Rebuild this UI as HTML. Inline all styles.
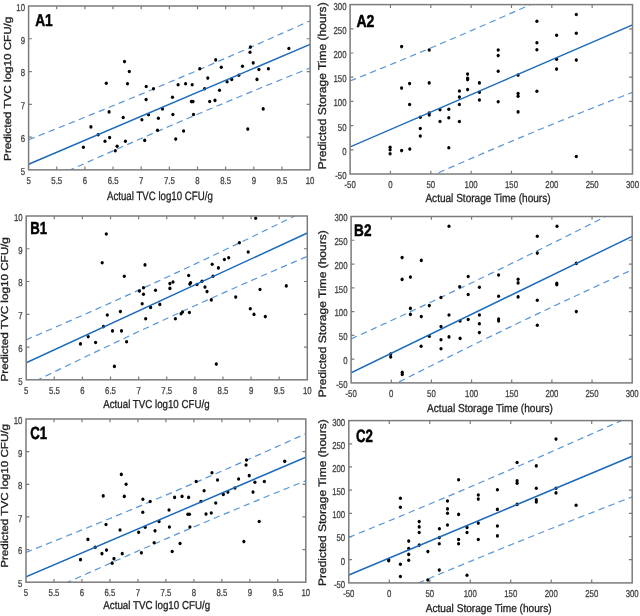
<!DOCTYPE html>
<html><head><meta charset="utf-8"><style>
html,body{margin:0;padding:0;background:#fff;width:640px;height:616px;overflow:hidden;}
svg{display:block;font-family:'Liberation Sans', sans-serif;filter:blur(0.45px);text-rendering:geometricPrecision;}
</style></head><body>
<svg width="640" height="616" viewBox="0 0 640 616">
<rect width="640" height="616" fill="#fff"/>
<clipPath id="clipA1"><rect x="28.6" y="6.0" width="281.50" height="163.85"/></clipPath>
<path d="M56.75 169.85V166.55M56.75 6.0V9.30M84.90 169.85V166.55M84.90 6.0V9.30M113.05 169.85V166.55M113.05 6.0V9.30M141.20 169.85V166.55M141.20 6.0V9.30M169.35 169.85V166.55M169.35 6.0V9.30M197.50 169.85V166.55M197.50 6.0V9.30M225.65 169.85V166.55M225.65 6.0V9.30M253.80 169.85V166.55M253.80 6.0V9.30M281.95 169.85V166.55M281.95 6.0V9.30M28.6 137.08H31.90M310.1 137.08H306.80M28.6 104.31H31.90M310.1 104.31H306.80M28.6 71.54H31.90M310.1 71.54H306.80M28.6 38.77H31.90M310.1 38.77H306.80" stroke="#7b7b7b" stroke-width="1.2" fill="none"/>
<g clip-path="url(#clipA1)">
<polyline points="28.60,139.70 37.98,135.99 47.37,132.27 56.75,128.53 66.13,124.77 75.52,121.00 84.90,117.22 94.28,113.41 103.67,109.59 113.05,105.75 122.43,101.89 131.82,98.02 141.20,94.12 150.58,90.21 159.97,86.27 169.35,82.32 178.73,78.35 188.12,74.36 197.50,70.35 206.88,66.31 216.27,62.26 225.65,58.19 235.03,54.10 244.42,50.00 253.80,45.87 263.18,41.72 272.57,37.56 281.95,33.38 291.33,29.18 300.72,24.96 310.10,20.73" fill="none" stroke="#5896d6" stroke-width="1.2" stroke-dasharray="6.4 4.4"/>
<polyline points="28.60,188.86 37.98,184.57 47.37,180.30 56.75,176.04 66.13,171.80 75.52,167.58 84.90,163.37 94.28,159.18 103.67,155.00 113.05,150.84 122.43,146.71 131.82,142.59 141.20,138.49 150.58,134.40 159.97,130.34 169.35,126.30 178.73,122.27 188.12,118.27 197.50,114.29 206.88,110.32 216.27,106.38 225.65,102.45 235.03,98.55 244.42,94.66 253.80,90.79 263.18,86.94 272.57,83.11 281.95,79.29 291.33,75.50 300.72,71.71 310.10,67.95" fill="none" stroke="#5896d6" stroke-width="1.2" stroke-dasharray="6.4 4.4"/>
</g>
<g fill="#000"><ellipse cx="106.30" cy="83.20" rx="1.6" ry="1.8"/><ellipse cx="124.50" cy="61.60" rx="1.6" ry="1.8"/><ellipse cx="129.30" cy="71.50" rx="1.6" ry="1.8"/><ellipse cx="127.50" cy="83.70" rx="1.6" ry="1.8"/><ellipse cx="146.20" cy="86.50" rx="1.6" ry="1.8"/><ellipse cx="153.50" cy="88.80" rx="1.6" ry="1.8"/><ellipse cx="146.10" cy="99.60" rx="1.6" ry="1.8"/><ellipse cx="178.10" cy="84.70" rx="1.6" ry="1.8"/><ellipse cx="185.60" cy="83.70" rx="1.6" ry="1.8"/><ellipse cx="192.20" cy="84.70" rx="1.6" ry="1.8"/><ellipse cx="172.50" cy="97.30" rx="1.6" ry="1.8"/><ellipse cx="191.40" cy="101.60" rx="1.6" ry="1.8"/><ellipse cx="193.00" cy="101.60" rx="1.6" ry="1.8"/><ellipse cx="199.80" cy="68.70" rx="1.6" ry="1.8"/><ellipse cx="83.40" cy="147.20" rx="1.6" ry="1.8"/><ellipse cx="90.90" cy="126.90" rx="1.6" ry="1.8"/><ellipse cx="98.20" cy="134.80" rx="1.6" ry="1.8"/><ellipse cx="105.00" cy="141.20" rx="1.6" ry="1.8"/><ellipse cx="109.60" cy="137.60" rx="1.6" ry="1.8"/><ellipse cx="109.10" cy="111.90" rx="1.6" ry="1.8"/><ellipse cx="117.10" cy="146.20" rx="1.6" ry="1.8"/><ellipse cx="115.30" cy="150.70" rx="1.6" ry="1.8"/><ellipse cx="123.20" cy="117.50" rx="1.6" ry="1.8"/><ellipse cx="125.40" cy="141.20" rx="1.6" ry="1.8"/><ellipse cx="141.90" cy="119.80" rx="1.6" ry="1.8"/><ellipse cx="148.50" cy="114.70" rx="1.6" ry="1.8"/><ellipse cx="144.70" cy="140.40" rx="1.6" ry="1.8"/><ellipse cx="158.40" cy="118.30" rx="1.6" ry="1.8"/><ellipse cx="162.50" cy="108.90" rx="1.6" ry="1.8"/><ellipse cx="157.50" cy="130.30" rx="1.6" ry="1.8"/><ellipse cx="172.90" cy="114.50" rx="1.6" ry="1.8"/><ellipse cx="193.50" cy="114.50" rx="1.6" ry="1.8"/><ellipse cx="183.60" cy="131.00" rx="1.6" ry="1.8"/><ellipse cx="175.70" cy="139.10" rx="1.6" ry="1.8"/><ellipse cx="207.80" cy="78.10" rx="1.6" ry="1.8"/><ellipse cx="204.60" cy="88.80" rx="1.6" ry="1.8"/><ellipse cx="209.70" cy="101.50" rx="1.6" ry="1.8"/><ellipse cx="215.00" cy="100.40" rx="1.6" ry="1.8"/><ellipse cx="219.50" cy="90.30" rx="1.6" ry="1.8"/><ellipse cx="215.70" cy="59.90" rx="1.6" ry="1.8"/><ellipse cx="221.30" cy="67.20" rx="1.6" ry="1.8"/><ellipse cx="227.10" cy="81.70" rx="1.6" ry="1.8"/><ellipse cx="231.70" cy="79.40" rx="1.6" ry="1.8"/><ellipse cx="238.80" cy="75.30" rx="1.6" ry="1.8"/><ellipse cx="242.50" cy="66.30" rx="1.6" ry="1.8"/><ellipse cx="250.40" cy="47.10" rx="1.6" ry="1.8"/><ellipse cx="250.00" cy="52.20" rx="1.6" ry="1.8"/><ellipse cx="253.20" cy="62.90" rx="1.6" ry="1.8"/><ellipse cx="258.90" cy="69.50" rx="1.6" ry="1.8"/><ellipse cx="257.00" cy="79.40" rx="1.6" ry="1.8"/><ellipse cx="268.40" cy="68.70" rx="1.6" ry="1.8"/><ellipse cx="288.90" cy="48.50" rx="1.6" ry="1.8"/><ellipse cx="263.20" cy="108.90" rx="1.6" ry="1.8"/><ellipse cx="247.80" cy="129.10" rx="1.6" ry="1.8"/></g>
<g clip-path="url(#clipA1)"><line x1="28.60" y1="164.28" x2="310.10" y2="44.34" stroke="#1b6abb" stroke-width="1.5"/></g>
<rect x="28.6" y="6.0" width="281.50" height="163.85" fill="none" stroke="#7b7b7b" stroke-width="1.5"/>
<g fill="#444444" stroke="#444444" stroke-width="0.3" font-size="10.0"><text transform="translate(28.60,184.05) scale(0.78,1)" text-anchor="middle">5</text><text transform="translate(56.75,184.05) scale(0.78,1)" text-anchor="middle">5.5</text><text transform="translate(84.90,184.05) scale(0.78,1)" text-anchor="middle">6</text><text transform="translate(113.05,184.05) scale(0.78,1)" text-anchor="middle">6.5</text><text transform="translate(141.20,184.05) scale(0.78,1)" text-anchor="middle">7</text><text transform="translate(169.35,184.05) scale(0.78,1)" text-anchor="middle">7.5</text><text transform="translate(197.50,184.05) scale(0.78,1)" text-anchor="middle">8</text><text transform="translate(225.65,184.05) scale(0.78,1)" text-anchor="middle">8.5</text><text transform="translate(253.80,184.05) scale(0.78,1)" text-anchor="middle">9</text><text transform="translate(281.95,184.05) scale(0.78,1)" text-anchor="middle">9.5</text><text transform="translate(310.10,184.05) scale(0.78,1)" text-anchor="middle">10</text><text transform="translate(25.00,174.75) scale(0.78,1)" text-anchor="end">5</text><text transform="translate(25.00,141.98) scale(0.78,1)" text-anchor="end">6</text><text transform="translate(25.00,109.21) scale(0.78,1)" text-anchor="end">7</text><text transform="translate(25.00,76.44) scale(0.78,1)" text-anchor="end">8</text><text transform="translate(25.00,43.67) scale(0.78,1)" text-anchor="end">9</text><text transform="translate(25.00,10.90) scale(0.78,1)" text-anchor="end">10</text></g>
<text transform="translate(106.95,199.75) scale(0.8061,1)" font-size="12.03" fill="#1e1e1e" stroke="#1e1e1e" stroke-width="0.3">Actual TVC log10 CFU/g</text>
<text transform="translate(10.80,160.88) rotate(-90) scale(1.1509,1)" font-size="10.14" fill="#1e1e1e" stroke="#1e1e1e" stroke-width="0.3">Predicted TVC log10 CFU/g</text>
<text transform="translate(35.14,25.75) scale(0.8038,1)" font-size="17.03" font-weight="bold" fill="#000" stroke="#000" stroke-width="0.5">A1</text>
<clipPath id="clipA2"><rect x="350.1" y="4.6" width="282.40" height="169.40"/></clipPath>
<path d="M390.44 174.0V170.70M390.44 4.6V7.90M430.79 174.0V170.70M430.79 4.6V7.90M471.13 174.0V170.70M471.13 4.6V7.90M511.47 174.0V170.70M511.47 4.6V7.90M551.81 174.0V170.70M551.81 4.6V7.90M592.16 174.0V170.70M592.16 4.6V7.90M350.1 149.80H353.40M632.5 149.80H629.20M350.1 125.60H353.40M632.5 125.60H629.20M350.1 101.40H353.40M632.5 101.40H629.20M350.1 77.20H353.40M632.5 77.20H629.20M350.1 53.00H353.40M632.5 53.00H629.20M350.1 28.80H353.40M632.5 28.80H629.20" stroke="#7b7b7b" stroke-width="1.2" fill="none"/>
<g clip-path="url(#clipA2)">
<polyline points="350.10,80.98 359.51,77.21 368.93,73.42 378.34,69.61 387.75,65.77 397.17,61.91 406.58,58.02 415.99,54.11 425.41,50.18 434.82,46.22 444.23,42.23 453.65,38.23 463.06,34.19 472.47,30.13 481.89,26.05 491.30,21.94 500.71,17.81 510.13,13.65 519.54,9.47 528.95,5.26 538.37,1.03 547.78,-3.23 557.19,-7.51 566.61,-11.81 576.02,-16.14 585.43,-20.49 594.85,-24.86 604.26,-29.26 613.67,-33.67 623.09,-38.11 632.50,-42.58" fill="none" stroke="#5896d6" stroke-width="1.2" stroke-dasharray="6.4 4.4"/>
<polyline points="350.10,212.81 359.51,208.45 368.93,204.10 378.34,199.78 387.75,195.49 397.17,191.21 406.58,186.96 415.99,182.74 425.41,178.54 434.82,174.36 444.23,170.21 453.65,166.09 463.06,161.99 472.47,157.91 481.89,153.86 491.30,149.83 500.71,145.83 510.13,141.86 519.54,137.90 528.95,133.98 538.37,130.07 547.78,126.19 557.19,122.34 566.61,118.51 576.02,114.70 585.43,110.92 594.85,107.16 604.26,103.42 613.67,99.70 623.09,96.01 632.50,92.33" fill="none" stroke="#5896d6" stroke-width="1.2" stroke-dasharray="6.4 4.4"/>
</g>
<g fill="#000"><ellipse cx="401.60" cy="46.60" rx="1.6" ry="1.8"/><ellipse cx="429.20" cy="50.00" rx="1.6" ry="1.8"/><ellipse cx="498.20" cy="50.00" rx="1.6" ry="1.8"/><ellipse cx="498.20" cy="55.60" rx="1.6" ry="1.8"/><ellipse cx="498.20" cy="71.20" rx="1.6" ry="1.8"/><ellipse cx="401.60" cy="88.10" rx="1.6" ry="1.8"/><ellipse cx="409.60" cy="83.60" rx="1.6" ry="1.8"/><ellipse cx="429.20" cy="82.90" rx="1.6" ry="1.8"/><ellipse cx="467.60" cy="74.10" rx="1.6" ry="1.8"/><ellipse cx="467.60" cy="78.20" rx="1.6" ry="1.8"/><ellipse cx="467.60" cy="79.60" rx="1.6" ry="1.8"/><ellipse cx="467.60" cy="89.60" rx="1.6" ry="1.8"/><ellipse cx="479.40" cy="82.90" rx="1.6" ry="1.8"/><ellipse cx="409.60" cy="104.50" rx="1.6" ry="1.8"/><ellipse cx="459.40" cy="91.00" rx="1.6" ry="1.8"/><ellipse cx="459.40" cy="97.10" rx="1.6" ry="1.8"/><ellipse cx="459.40" cy="104.50" rx="1.6" ry="1.8"/><ellipse cx="479.40" cy="92.30" rx="1.6" ry="1.8"/><ellipse cx="479.40" cy="100.00" rx="1.6" ry="1.8"/><ellipse cx="498.20" cy="101.70" rx="1.6" ry="1.8"/><ellipse cx="440.00" cy="109.70" rx="1.6" ry="1.8"/><ellipse cx="448.80" cy="109.20" rx="1.6" ry="1.8"/><ellipse cx="429.20" cy="113.10" rx="1.6" ry="1.8"/><ellipse cx="429.20" cy="114.90" rx="1.6" ry="1.8"/><ellipse cx="420.30" cy="117.20" rx="1.6" ry="1.8"/><ellipse cx="440.00" cy="121.50" rx="1.6" ry="1.8"/><ellipse cx="448.80" cy="117.80" rx="1.6" ry="1.8"/><ellipse cx="459.40" cy="121.50" rx="1.6" ry="1.8"/><ellipse cx="420.30" cy="128.50" rx="1.6" ry="1.8"/><ellipse cx="420.30" cy="136.00" rx="1.6" ry="1.8"/><ellipse cx="390.10" cy="147.20" rx="1.6" ry="1.8"/><ellipse cx="390.10" cy="149.70" rx="1.6" ry="1.8"/><ellipse cx="390.10" cy="153.80" rx="1.6" ry="1.8"/><ellipse cx="401.60" cy="150.60" rx="1.6" ry="1.8"/><ellipse cx="409.80" cy="149.10" rx="1.6" ry="1.8"/><ellipse cx="448.80" cy="147.80" rx="1.6" ry="1.8"/><ellipse cx="518.10" cy="75.10" rx="1.6" ry="1.8"/><ellipse cx="536.90" cy="21.30" rx="1.6" ry="1.8"/><ellipse cx="536.90" cy="42.80" rx="1.6" ry="1.8"/><ellipse cx="536.90" cy="49.80" rx="1.6" ry="1.8"/><ellipse cx="556.60" cy="35.30" rx="1.6" ry="1.8"/><ellipse cx="556.60" cy="59.20" rx="1.6" ry="1.8"/><ellipse cx="556.60" cy="69.10" rx="1.6" ry="1.8"/><ellipse cx="576.30" cy="14.50" rx="1.6" ry="1.8"/><ellipse cx="576.30" cy="33.30" rx="1.6" ry="1.8"/><ellipse cx="576.30" cy="60.10" rx="1.6" ry="1.8"/><ellipse cx="518.10" cy="93.50" rx="1.6" ry="1.8"/><ellipse cx="518.10" cy="96.30" rx="1.6" ry="1.8"/><ellipse cx="518.10" cy="111.90" rx="1.6" ry="1.8"/><ellipse cx="536.90" cy="91.30" rx="1.6" ry="1.8"/><ellipse cx="576.30" cy="156.50" rx="1.6" ry="1.8"/></g>
<g clip-path="url(#clipA2)"><line x1="350.10" y1="146.90" x2="632.50" y2="24.88" stroke="#1b6abb" stroke-width="1.5"/></g>
<rect x="350.1" y="4.6" width="282.40" height="169.40" fill="none" stroke="#7b7b7b" stroke-width="1.5"/>
<g fill="#444444" stroke="#444444" stroke-width="0.3" font-size="10.0"><text transform="translate(350.10,188.20) scale(0.78,1)" text-anchor="middle">-50</text><text transform="translate(390.44,188.20) scale(0.78,1)" text-anchor="middle">0</text><text transform="translate(430.79,188.20) scale(0.78,1)" text-anchor="middle">50</text><text transform="translate(471.13,188.20) scale(0.78,1)" text-anchor="middle">100</text><text transform="translate(511.47,188.20) scale(0.78,1)" text-anchor="middle">150</text><text transform="translate(551.81,188.20) scale(0.78,1)" text-anchor="middle">200</text><text transform="translate(592.16,188.20) scale(0.78,1)" text-anchor="middle">250</text><text transform="translate(632.50,188.20) scale(0.78,1)" text-anchor="middle">300</text><text transform="translate(346.50,178.90) scale(0.78,1)" text-anchor="end">-50</text><text transform="translate(346.50,154.70) scale(0.78,1)" text-anchor="end">0</text><text transform="translate(346.50,130.50) scale(0.78,1)" text-anchor="end">50</text><text transform="translate(346.50,106.30) scale(0.78,1)" text-anchor="end">100</text><text transform="translate(346.50,82.10) scale(0.78,1)" text-anchor="end">150</text><text transform="translate(346.50,57.90) scale(0.78,1)" text-anchor="end">200</text><text transform="translate(346.50,33.70) scale(0.78,1)" text-anchor="end">250</text><text transform="translate(346.50,9.50) scale(0.78,1)" text-anchor="end">300</text></g>
<text transform="translate(425.40,202.25) scale(0.8570,1)" font-size="11.74" fill="#1e1e1e" stroke="#1e1e1e" stroke-width="0.3">Actual Storage Time (hours)</text>
<text transform="translate(325.95,169.31) rotate(-90) scale(1.0635,1)" font-size="11.30" fill="#1e1e1e" stroke="#1e1e1e" stroke-width="0.3">Predicted Storage Time (hours)</text>
<text transform="translate(356.43,27.45) scale(0.8079,1)" font-size="17.39" font-weight="bold" fill="#000" stroke="#000" stroke-width="0.5">A2</text>
<clipPath id="clipB1"><rect x="26.2" y="216.0" width="281.10" height="163.80"/></clipPath>
<path d="M54.31 379.8V376.50M54.31 216.0V219.30M82.42 379.8V376.50M82.42 216.0V219.30M110.53 379.8V376.50M110.53 216.0V219.30M138.64 379.8V376.50M138.64 216.0V219.30M166.75 379.8V376.50M166.75 216.0V219.30M194.86 379.8V376.50M194.86 216.0V219.30M222.97 379.8V376.50M222.97 216.0V219.30M251.08 379.8V376.50M251.08 216.0V219.30M279.19 379.8V376.50M279.19 216.0V219.30M26.2 347.04H29.50M307.3 347.04H304.00M26.2 314.28H29.50M307.3 314.28H304.00M26.2 281.52H29.50M307.3 281.52H304.00M26.2 248.76H29.50M307.3 248.76H304.00" stroke="#7b7b7b" stroke-width="1.2" fill="none"/>
<g clip-path="url(#clipB1)">
<polyline points="26.20,339.85 35.57,335.82 44.94,331.77 54.31,327.70 63.68,323.61 73.05,319.50 82.42,315.38 91.79,311.23 101.16,307.06 110.53,302.87 119.90,298.66 129.27,294.42 138.64,290.17 148.01,285.88 157.38,281.58 166.75,277.25 176.12,272.90 185.49,268.53 194.86,264.14 204.23,259.72 213.60,255.28 222.97,250.82 232.34,246.33 241.71,241.83 251.08,237.30 260.45,232.76 269.82,228.19 279.19,223.61 288.56,219.01 297.93,214.39 307.30,209.75" fill="none" stroke="#5896d6" stroke-width="1.2" stroke-dasharray="6.4 4.4"/>
<polyline points="26.20,385.68 35.57,381.06 44.94,376.46 54.31,371.88 63.68,367.32 73.05,362.78 82.42,358.26 91.79,353.76 101.16,349.28 110.53,344.82 119.90,340.39 129.27,335.97 138.64,331.58 148.01,327.21 157.38,322.87 166.75,318.55 176.12,314.25 185.49,309.97 194.86,305.72 204.23,301.49 213.60,297.28 222.97,293.09 232.34,288.93 241.71,284.78 251.08,280.66 260.45,276.56 269.82,272.47 279.19,268.41 288.56,264.36 297.93,260.33 307.30,256.32" fill="none" stroke="#5896d6" stroke-width="1.2" stroke-dasharray="6.4 4.4"/>
</g>
<g fill="#000"><ellipse cx="106.30" cy="234.00" rx="1.6" ry="1.8"/><ellipse cx="102.20" cy="262.80" rx="1.6" ry="1.8"/><ellipse cx="145.00" cy="264.90" rx="1.6" ry="1.8"/><ellipse cx="124.30" cy="276.30" rx="1.6" ry="1.8"/><ellipse cx="139.40" cy="291.00" rx="1.6" ry="1.8"/><ellipse cx="143.50" cy="287.80" rx="1.6" ry="1.8"/><ellipse cx="143.50" cy="294.20" rx="1.6" ry="1.8"/><ellipse cx="155.50" cy="290.30" rx="1.6" ry="1.8"/><ellipse cx="169.90" cy="283.60" rx="1.6" ry="1.8"/><ellipse cx="173.00" cy="282.00" rx="1.6" ry="1.8"/><ellipse cx="169.90" cy="288.40" rx="1.6" ry="1.8"/><ellipse cx="188.70" cy="275.50" rx="1.6" ry="1.8"/><ellipse cx="190.60" cy="282.80" rx="1.6" ry="1.8"/><ellipse cx="189.80" cy="284.10" rx="1.6" ry="1.8"/><ellipse cx="80.50" cy="343.90" rx="1.6" ry="1.8"/><ellipse cx="88.20" cy="336.70" rx="1.6" ry="1.8"/><ellipse cx="95.60" cy="342.50" rx="1.6" ry="1.8"/><ellipse cx="103.50" cy="326.60" rx="1.6" ry="1.8"/><ellipse cx="107.30" cy="315.00" rx="1.6" ry="1.8"/><ellipse cx="112.50" cy="330.90" rx="1.6" ry="1.8"/><ellipse cx="120.40" cy="311.60" rx="1.6" ry="1.8"/><ellipse cx="121.50" cy="330.90" rx="1.6" ry="1.8"/><ellipse cx="126.60" cy="341.80" rx="1.6" ry="1.8"/><ellipse cx="114.40" cy="366.40" rx="1.6" ry="1.8"/><ellipse cx="142.20" cy="303.70" rx="1.6" ry="1.8"/><ellipse cx="150.60" cy="307.40" rx="1.6" ry="1.8"/><ellipse cx="159.80" cy="304.40" rx="1.6" ry="1.8"/><ellipse cx="145.70" cy="318.70" rx="1.6" ry="1.8"/><ellipse cx="175.40" cy="318.70" rx="1.6" ry="1.8"/><ellipse cx="181.00" cy="313.80" rx="1.6" ry="1.8"/><ellipse cx="182.50" cy="312.00" rx="1.6" ry="1.8"/><ellipse cx="189.40" cy="312.50" rx="1.6" ry="1.8"/><ellipse cx="197.00" cy="284.50" rx="1.6" ry="1.8"/><ellipse cx="202.00" cy="281.30" rx="1.6" ry="1.8"/><ellipse cx="205.00" cy="287.10" rx="1.6" ry="1.8"/><ellipse cx="207.00" cy="291.60" rx="1.6" ry="1.8"/><ellipse cx="213.00" cy="276.30" rx="1.6" ry="1.8"/><ellipse cx="212.20" cy="264.30" rx="1.6" ry="1.8"/><ellipse cx="218.40" cy="267.90" rx="1.6" ry="1.8"/><ellipse cx="224.40" cy="259.50" rx="1.6" ry="1.8"/><ellipse cx="228.70" cy="257.80" rx="1.6" ry="1.8"/><ellipse cx="239.40" cy="242.80" rx="1.6" ry="1.8"/><ellipse cx="248.20" cy="252.00" rx="1.6" ry="1.8"/><ellipse cx="255.70" cy="218.20" rx="1.6" ry="1.8"/><ellipse cx="260.00" cy="289.50" rx="1.6" ry="1.8"/><ellipse cx="286.30" cy="285.90" rx="1.6" ry="1.8"/><ellipse cx="211.30" cy="299.90" rx="1.6" ry="1.8"/><ellipse cx="235.70" cy="297.10" rx="1.6" ry="1.8"/><ellipse cx="250.30" cy="308.80" rx="1.6" ry="1.8"/><ellipse cx="254.00" cy="314.40" rx="1.6" ry="1.8"/><ellipse cx="265.30" cy="316.60" rx="1.6" ry="1.8"/><ellipse cx="216.30" cy="364.10" rx="1.6" ry="1.8"/></g>
<g clip-path="url(#clipB1)"><line x1="26.20" y1="362.76" x2="307.30" y2="233.04" stroke="#1b6abb" stroke-width="1.5"/></g>
<rect x="26.2" y="216.0" width="281.10" height="163.80" fill="none" stroke="#7b7b7b" stroke-width="1.5"/>
<g fill="#444444" stroke="#444444" stroke-width="0.3" font-size="10.0"><text transform="translate(26.20,394.00) scale(0.78,1)" text-anchor="middle">5</text><text transform="translate(54.31,394.00) scale(0.78,1)" text-anchor="middle">5.5</text><text transform="translate(82.42,394.00) scale(0.78,1)" text-anchor="middle">6</text><text transform="translate(110.53,394.00) scale(0.78,1)" text-anchor="middle">6.5</text><text transform="translate(138.64,394.00) scale(0.78,1)" text-anchor="middle">7</text><text transform="translate(166.75,394.00) scale(0.78,1)" text-anchor="middle">7.5</text><text transform="translate(194.86,394.00) scale(0.78,1)" text-anchor="middle">8</text><text transform="translate(222.97,394.00) scale(0.78,1)" text-anchor="middle">8.5</text><text transform="translate(251.08,394.00) scale(0.78,1)" text-anchor="middle">9</text><text transform="translate(279.19,394.00) scale(0.78,1)" text-anchor="middle">9.5</text><text transform="translate(307.30,394.00) scale(0.78,1)" text-anchor="middle">10</text><text transform="translate(22.60,384.70) scale(0.78,1)" text-anchor="end">5</text><text transform="translate(22.60,351.94) scale(0.78,1)" text-anchor="end">6</text><text transform="translate(22.60,319.18) scale(0.78,1)" text-anchor="end">7</text><text transform="translate(22.60,286.42) scale(0.78,1)" text-anchor="end">8</text><text transform="translate(22.60,253.66) scale(0.78,1)" text-anchor="end">9</text><text transform="translate(22.60,220.90) scale(0.78,1)" text-anchor="end">10</text></g>
<text transform="translate(103.25,408.35) scale(0.8403,1)" font-size="11.59" fill="#1e1e1e" stroke="#1e1e1e" stroke-width="0.3">Actual TVC log10 CFU/g</text>
<text transform="translate(7.75,381.48) rotate(-90) scale(1.1517,1)" font-size="10.14" fill="#1e1e1e" stroke="#1e1e1e" stroke-width="0.3">Predicted TVC log10 CFU/g</text>
<text transform="translate(30.22,234.45) scale(0.7602,1)" font-size="17.39" font-weight="bold" fill="#000" stroke="#000" stroke-width="0.5">B1</text>
<clipPath id="clipB2"><rect x="351.1" y="216.5" width="281.10" height="166.40"/></clipPath>
<path d="M391.26 382.9V379.60M391.26 216.5V219.80M431.41 382.9V379.60M431.41 216.5V219.80M471.57 382.9V379.60M471.57 216.5V219.80M511.73 382.9V379.60M511.73 216.5V219.80M551.89 382.9V379.60M551.89 216.5V219.80M592.04 382.9V379.60M592.04 216.5V219.80M351.1 359.13H354.40M632.2 359.13H628.90M351.1 335.36H354.40M632.2 335.36H628.90M351.1 311.59H354.40M632.2 311.59H628.90M351.1 287.81H354.40M632.2 287.81H628.90M351.1 264.04H354.40M632.2 264.04H628.90M351.1 240.27H354.40M632.2 240.27H628.90" stroke="#7b7b7b" stroke-width="1.2" fill="none"/>
<g clip-path="url(#clipB2)">
<polyline points="351.10,338.97 360.47,334.72 369.84,330.44 379.21,326.15 388.58,321.84 397.95,317.51 407.32,313.16 416.69,308.79 426.06,304.41 435.43,300.00 444.80,295.58 454.17,291.13 463.54,286.67 472.91,282.18 482.28,277.67 491.65,273.15 501.02,268.60 510.39,264.03 519.76,259.44 529.13,254.83 538.50,250.20 547.87,245.55 557.24,240.88 566.61,236.19 575.98,231.48 585.35,226.75 594.72,222.00 604.09,217.23 613.46,212.45 622.83,207.64 632.20,202.82" fill="none" stroke="#5896d6" stroke-width="1.2" stroke-dasharray="6.4 4.4"/>
<polyline points="351.10,406.48 360.47,401.64 369.84,396.82 379.21,392.02 388.58,387.24 397.95,382.48 407.32,377.73 416.69,373.00 426.06,368.30 435.43,363.61 444.80,358.94 454.17,354.29 463.54,349.67 472.91,345.06 482.28,340.47 491.65,335.91 501.02,331.36 510.39,326.84 519.76,322.33 529.13,317.85 538.50,313.39 547.87,308.94 557.24,304.52 566.61,300.12 575.98,295.73 585.35,291.37 594.72,287.03 604.09,282.70 613.46,278.39 622.83,274.10 632.20,269.83" fill="none" stroke="#5896d6" stroke-width="1.2" stroke-dasharray="6.4 4.4"/>
</g>
<g fill="#000"><ellipse cx="449.00" cy="226.30" rx="1.6" ry="1.8"/><ellipse cx="402.10" cy="257.60" rx="1.6" ry="1.8"/><ellipse cx="421.30" cy="260.40" rx="1.6" ry="1.8"/><ellipse cx="402.10" cy="279.40" rx="1.6" ry="1.8"/><ellipse cx="410.40" cy="277.10" rx="1.6" ry="1.8"/><ellipse cx="468.20" cy="276.50" rx="1.6" ry="1.8"/><ellipse cx="459.70" cy="286.70" rx="1.6" ry="1.8"/><ellipse cx="479.40" cy="287.20" rx="1.6" ry="1.8"/><ellipse cx="498.60" cy="275.00" rx="1.6" ry="1.8"/><ellipse cx="468.20" cy="294.50" rx="1.6" ry="1.8"/><ellipse cx="498.60" cy="296.20" rx="1.6" ry="1.8"/><ellipse cx="441.00" cy="297.50" rx="1.6" ry="1.8"/><ellipse cx="410.40" cy="308.40" rx="1.6" ry="1.8"/><ellipse cx="410.40" cy="314.40" rx="1.6" ry="1.8"/><ellipse cx="429.30" cy="305.60" rx="1.6" ry="1.8"/><ellipse cx="421.30" cy="316.60" rx="1.6" ry="1.8"/><ellipse cx="449.00" cy="315.00" rx="1.6" ry="1.8"/><ellipse cx="460.10" cy="321.00" rx="1.6" ry="1.8"/><ellipse cx="468.20" cy="319.50" rx="1.6" ry="1.8"/><ellipse cx="479.40" cy="315.00" rx="1.6" ry="1.8"/><ellipse cx="479.40" cy="323.80" rx="1.6" ry="1.8"/><ellipse cx="479.40" cy="332.60" rx="1.6" ry="1.8"/><ellipse cx="498.60" cy="319.10" rx="1.6" ry="1.8"/><ellipse cx="498.60" cy="321.00" rx="1.6" ry="1.8"/><ellipse cx="441.00" cy="326.60" rx="1.6" ry="1.8"/><ellipse cx="429.30" cy="336.30" rx="1.6" ry="1.8"/><ellipse cx="441.00" cy="339.70" rx="1.6" ry="1.8"/><ellipse cx="449.00" cy="336.90" rx="1.6" ry="1.8"/><ellipse cx="460.10" cy="338.40" rx="1.6" ry="1.8"/><ellipse cx="421.10" cy="346.30" rx="1.6" ry="1.8"/><ellipse cx="441.00" cy="348.70" rx="1.6" ry="1.8"/><ellipse cx="390.70" cy="354.10" rx="1.6" ry="1.8"/><ellipse cx="390.70" cy="356.90" rx="1.6" ry="1.8"/><ellipse cx="402.25" cy="372.30" rx="1.6" ry="1.8"/><ellipse cx="402.25" cy="374.40" rx="1.6" ry="1.8"/><ellipse cx="518.10" cy="279.20" rx="1.6" ry="1.8"/><ellipse cx="518.10" cy="282.90" rx="1.6" ry="1.8"/><ellipse cx="537.30" cy="236.20" rx="1.6" ry="1.8"/><ellipse cx="537.30" cy="253.10" rx="1.6" ry="1.8"/><ellipse cx="557.00" cy="226.30" rx="1.6" ry="1.8"/><ellipse cx="556.80" cy="283.40" rx="1.6" ry="1.8"/><ellipse cx="556.80" cy="284.80" rx="1.6" ry="1.8"/><ellipse cx="576.30" cy="263.40" rx="1.6" ry="1.8"/><ellipse cx="518.10" cy="296.90" rx="1.6" ry="1.8"/><ellipse cx="537.30" cy="300.30" rx="1.6" ry="1.8"/><ellipse cx="537.30" cy="325.30" rx="1.6" ry="1.8"/><ellipse cx="576.30" cy="311.60" rx="1.6" ry="1.8"/></g>
<g clip-path="url(#clipB2)"><line x1="351.10" y1="372.73" x2="632.20" y2="236.33" stroke="#1b6abb" stroke-width="1.5"/></g>
<rect x="351.1" y="216.5" width="281.10" height="166.40" fill="none" stroke="#7b7b7b" stroke-width="1.5"/>
<g fill="#444444" stroke="#444444" stroke-width="0.3" font-size="10.0"><text transform="translate(351.10,397.10) scale(0.78,1)" text-anchor="middle">-50</text><text transform="translate(391.26,397.10) scale(0.78,1)" text-anchor="middle">0</text><text transform="translate(431.41,397.10) scale(0.78,1)" text-anchor="middle">50</text><text transform="translate(471.57,397.10) scale(0.78,1)" text-anchor="middle">100</text><text transform="translate(511.73,397.10) scale(0.78,1)" text-anchor="middle">150</text><text transform="translate(551.89,397.10) scale(0.78,1)" text-anchor="middle">200</text><text transform="translate(592.04,397.10) scale(0.78,1)" text-anchor="middle">250</text><text transform="translate(632.20,397.10) scale(0.78,1)" text-anchor="middle">300</text><text transform="translate(347.50,387.80) scale(0.78,1)" text-anchor="end">-50</text><text transform="translate(347.50,364.03) scale(0.78,1)" text-anchor="end">0</text><text transform="translate(347.50,340.26) scale(0.78,1)" text-anchor="end">50</text><text transform="translate(347.50,316.49) scale(0.78,1)" text-anchor="end">100</text><text transform="translate(347.50,292.71) scale(0.78,1)" text-anchor="end">150</text><text transform="translate(347.50,268.94) scale(0.78,1)" text-anchor="end">200</text><text transform="translate(347.50,245.17) scale(0.78,1)" text-anchor="end">250</text><text transform="translate(347.50,221.40) scale(0.78,1)" text-anchor="end">300</text></g>
<text transform="translate(427.05,412.25) scale(0.8833,1)" font-size="11.45" fill="#1e1e1e" stroke="#1e1e1e" stroke-width="0.3">Actual Storage Time (hours)</text>
<text transform="translate(325.75,397.31) rotate(-90) scale(1.1216,1)" font-size="10.72" fill="#1e1e1e" stroke="#1e1e1e" stroke-width="0.3">Predicted Storage Time (hours)</text>
<text transform="translate(354.10,235.55) scale(0.8084,1)" font-size="16.81" font-weight="bold" fill="#000" stroke="#000" stroke-width="0.5">B2</text>
<clipPath id="clipC1"><rect x="26.0" y="419.0" width="279.80" height="163.20"/></clipPath>
<path d="M53.98 582.2V578.90M53.98 419.0V422.30M81.96 582.2V578.90M81.96 419.0V422.30M109.94 582.2V578.90M109.94 419.0V422.30M137.92 582.2V578.90M137.92 419.0V422.30M165.90 582.2V578.90M165.90 419.0V422.30M193.88 582.2V578.90M193.88 419.0V422.30M221.86 582.2V578.90M221.86 419.0V422.30M249.84 582.2V578.90M249.84 419.0V422.30M277.82 582.2V578.90M277.82 419.0V422.30M26.0 549.56H29.30M305.8 549.56H302.50M26.0 516.92H29.30M305.8 516.92H302.50M26.0 484.28H29.30M305.8 484.28H302.50M26.0 451.64H29.30M305.8 451.64H302.50" stroke="#7b7b7b" stroke-width="1.2" fill="none"/>
<g clip-path="url(#clipC1)">
<polyline points="26.00,552.33 35.33,548.63 44.65,544.92 53.98,541.19 63.31,537.44 72.63,533.68 81.96,529.90 91.29,526.11 100.61,522.30 109.94,518.47 119.27,514.62 128.59,510.76 137.92,506.87 147.25,502.97 156.57,499.04 165.90,495.10 175.23,491.14 184.55,487.16 193.88,483.16 203.21,479.14 212.53,475.09 221.86,471.04 231.19,466.96 240.51,462.86 249.84,458.74 259.17,454.61 268.49,450.45 277.82,446.28 287.15,442.10 296.47,437.89 305.80,433.67" fill="none" stroke="#5896d6" stroke-width="1.2" stroke-dasharray="6.4 4.4"/>
<polyline points="26.00,601.30 35.33,597.02 44.65,592.76 53.98,588.52 63.31,584.29 72.63,580.07 81.96,575.87 91.29,571.69 100.61,567.53 109.94,563.38 119.27,559.26 128.59,555.15 137.92,551.06 147.25,546.99 156.57,542.93 165.90,538.90 175.23,534.89 184.55,530.90 193.88,526.92 203.21,522.97 212.53,519.03 221.86,515.12 231.19,511.22 240.51,507.34 249.84,503.49 259.17,499.65 268.49,495.82 277.82,492.02 287.15,488.23 296.47,484.46 305.80,480.71" fill="none" stroke="#5896d6" stroke-width="1.2" stroke-dasharray="6.4 4.4"/>
</g>
<g fill="#000"><ellipse cx="103.23" cy="495.89" rx="1.6" ry="1.8"/><ellipse cx="121.32" cy="474.38" rx="1.6" ry="1.8"/><ellipse cx="126.09" cy="484.24" rx="1.6" ry="1.8"/><ellipse cx="124.30" cy="496.39" rx="1.6" ry="1.8"/><ellipse cx="142.89" cy="499.18" rx="1.6" ry="1.8"/><ellipse cx="150.15" cy="501.47" rx="1.6" ry="1.8"/><ellipse cx="142.79" cy="512.23" rx="1.6" ry="1.8"/><ellipse cx="174.60" cy="497.39" rx="1.6" ry="1.8"/><ellipse cx="182.05" cy="496.39" rx="1.6" ry="1.8"/><ellipse cx="188.61" cy="497.39" rx="1.6" ry="1.8"/><ellipse cx="169.03" cy="509.94" rx="1.6" ry="1.8"/><ellipse cx="187.82" cy="514.22" rx="1.6" ry="1.8"/><ellipse cx="189.41" cy="514.22" rx="1.6" ry="1.8"/><ellipse cx="196.17" cy="481.45" rx="1.6" ry="1.8"/><ellipse cx="80.47" cy="559.64" rx="1.6" ry="1.8"/><ellipse cx="87.92" cy="539.42" rx="1.6" ry="1.8"/><ellipse cx="95.18" cy="547.29" rx="1.6" ry="1.8"/><ellipse cx="101.94" cy="553.66" rx="1.6" ry="1.8"/><ellipse cx="106.51" cy="550.08" rx="1.6" ry="1.8"/><ellipse cx="106.01" cy="524.48" rx="1.6" ry="1.8"/><ellipse cx="113.97" cy="558.64" rx="1.6" ry="1.8"/><ellipse cx="112.18" cy="563.13" rx="1.6" ry="1.8"/><ellipse cx="120.03" cy="530.06" rx="1.6" ry="1.8"/><ellipse cx="122.22" cy="553.66" rx="1.6" ry="1.8"/><ellipse cx="138.62" cy="532.35" rx="1.6" ry="1.8"/><ellipse cx="145.18" cy="527.27" rx="1.6" ry="1.8"/><ellipse cx="141.40" cy="552.87" rx="1.6" ry="1.8"/><ellipse cx="155.02" cy="530.85" rx="1.6" ry="1.8"/><ellipse cx="159.09" cy="521.49" rx="1.6" ry="1.8"/><ellipse cx="154.12" cy="542.81" rx="1.6" ry="1.8"/><ellipse cx="169.43" cy="527.07" rx="1.6" ry="1.8"/><ellipse cx="189.90" cy="527.07" rx="1.6" ry="1.8"/><ellipse cx="180.06" cy="543.50" rx="1.6" ry="1.8"/><ellipse cx="172.21" cy="551.57" rx="1.6" ry="1.8"/><ellipse cx="204.12" cy="490.81" rx="1.6" ry="1.8"/><ellipse cx="200.94" cy="501.47" rx="1.6" ry="1.8"/><ellipse cx="206.01" cy="514.12" rx="1.6" ry="1.8"/><ellipse cx="211.27" cy="513.03" rx="1.6" ry="1.8"/><ellipse cx="215.75" cy="502.97" rx="1.6" ry="1.8"/><ellipse cx="211.97" cy="472.69" rx="1.6" ry="1.8"/><ellipse cx="217.54" cy="479.96" rx="1.6" ry="1.8"/><ellipse cx="223.30" cy="494.40" rx="1.6" ry="1.8"/><ellipse cx="227.87" cy="492.11" rx="1.6" ry="1.8"/><ellipse cx="234.93" cy="488.03" rx="1.6" ry="1.8"/><ellipse cx="238.61" cy="479.06" rx="1.6" ry="1.8"/><ellipse cx="246.46" cy="459.94" rx="1.6" ry="1.8"/><ellipse cx="246.06" cy="465.02" rx="1.6" ry="1.8"/><ellipse cx="249.24" cy="475.67" rx="1.6" ry="1.8"/><ellipse cx="254.91" cy="482.25" rx="1.6" ry="1.8"/><ellipse cx="253.02" cy="492.11" rx="1.6" ry="1.8"/><ellipse cx="264.35" cy="481.45" rx="1.6" ry="1.8"/><ellipse cx="284.73" cy="461.33" rx="1.6" ry="1.8"/><ellipse cx="259.18" cy="521.49" rx="1.6" ry="1.8"/><ellipse cx="243.88" cy="541.61" rx="1.6" ry="1.8"/></g>
<g clip-path="url(#clipC1)"><line x1="26.00" y1="576.81" x2="305.80" y2="457.19" stroke="#1b6abb" stroke-width="1.5"/></g>
<rect x="26.0" y="419.0" width="279.80" height="163.20" fill="none" stroke="#7b7b7b" stroke-width="1.5"/>
<g fill="#444444" stroke="#444444" stroke-width="0.3" font-size="10.0"><text transform="translate(26.00,596.40) scale(0.78,1)" text-anchor="middle">5</text><text transform="translate(53.98,596.40) scale(0.78,1)" text-anchor="middle">5.5</text><text transform="translate(81.96,596.40) scale(0.78,1)" text-anchor="middle">6</text><text transform="translate(109.94,596.40) scale(0.78,1)" text-anchor="middle">6.5</text><text transform="translate(137.92,596.40) scale(0.78,1)" text-anchor="middle">7</text><text transform="translate(165.90,596.40) scale(0.78,1)" text-anchor="middle">7.5</text><text transform="translate(193.88,596.40) scale(0.78,1)" text-anchor="middle">8</text><text transform="translate(221.86,596.40) scale(0.78,1)" text-anchor="middle">8.5</text><text transform="translate(249.84,596.40) scale(0.78,1)" text-anchor="middle">9</text><text transform="translate(277.82,596.40) scale(0.78,1)" text-anchor="middle">9.5</text><text transform="translate(305.80,596.40) scale(0.78,1)" text-anchor="middle">10</text><text transform="translate(22.40,587.10) scale(0.78,1)" text-anchor="end">5</text><text transform="translate(22.40,554.46) scale(0.78,1)" text-anchor="end">6</text><text transform="translate(22.40,521.82) scale(0.78,1)" text-anchor="end">7</text><text transform="translate(22.40,489.18) scale(0.78,1)" text-anchor="end">8</text><text transform="translate(22.40,456.54) scale(0.78,1)" text-anchor="end">9</text><text transform="translate(22.40,423.90) scale(0.78,1)" text-anchor="end">10</text></g>
<text transform="translate(103.25,609.45) scale(0.8557,1)" font-size="11.45" fill="#1e1e1e" stroke="#1e1e1e" stroke-width="0.3">Actual TVC log10 CFU/g</text>
<text transform="translate(8.15,567.78) rotate(-90) scale(1.1477,1)" font-size="10.14" fill="#1e1e1e" stroke="#1e1e1e" stroke-width="0.3">Predicted TVC log10 CFU/g</text>
<text transform="translate(30.22,439.25) scale(0.7479,1)" font-size="17.68" font-weight="bold" fill="#000" stroke="#000" stroke-width="0.5">C1</text>
<clipPath id="clipC2"><rect x="348.8" y="420.6" width="283.40" height="162.30"/></clipPath>
<path d="M389.29 582.9V579.60M389.29 420.6V423.90M429.77 582.9V579.60M429.77 420.6V423.90M470.26 582.9V579.60M470.26 420.6V423.90M510.74 582.9V579.60M510.74 420.6V423.90M551.23 582.9V579.60M551.23 420.6V423.90M591.71 582.9V579.60M591.71 420.6V423.90M348.8 559.71H352.10M632.2 559.71H628.90M348.8 536.53H352.10M632.2 536.53H628.90M348.8 513.34H352.10M632.2 513.34H628.90M348.8 490.16H352.10M632.2 490.16H628.90M348.8 466.97H352.10M632.2 466.97H628.90M348.8 443.79H352.10M632.2 443.79H628.90" stroke="#7b7b7b" stroke-width="1.2" fill="none"/>
<g clip-path="url(#clipC2)">
<polyline points="348.80,537.34 358.25,533.51 367.69,529.66 377.14,525.80 386.59,521.92 396.03,518.03 405.48,514.12 414.93,510.20 424.37,506.26 433.82,502.30 443.27,498.33 452.71,494.35 462.16,490.34 471.61,486.32 481.05,482.29 490.50,478.23 499.95,474.17 509.39,470.09 518.84,465.99 528.29,461.88 537.73,457.75 547.18,453.61 556.63,449.45 566.07,445.28 575.52,441.09 584.97,436.89 594.41,432.68 603.86,428.45 613.31,424.21 622.75,419.96 632.20,415.70" fill="none" stroke="#5896d6" stroke-width="1.2" stroke-dasharray="6.4 4.4"/>
<polyline points="348.80,612.70 358.25,608.61 367.69,604.54 377.14,600.49 386.59,596.45 396.03,592.43 405.48,588.42 414.93,584.43 424.37,580.46 433.82,576.50 443.27,572.56 452.71,568.63 462.16,564.72 471.61,560.83 481.05,556.95 490.50,553.09 499.95,549.24 509.39,545.41 518.84,541.59 528.29,537.79 537.73,534.01 547.18,530.23 556.63,526.48 566.07,522.73 575.52,519.00 584.97,515.29 594.41,511.59 603.86,507.90 613.31,504.23 622.75,500.56 632.20,496.91" fill="none" stroke="#5896d6" stroke-width="1.2" stroke-dasharray="6.4 4.4"/>
</g>
<g fill="#000"><ellipse cx="400.40" cy="498.20" rx="1.6" ry="1.8"/><ellipse cx="400.40" cy="507.20" rx="1.6" ry="1.8"/><ellipse cx="458.60" cy="479.80" rx="1.6" ry="1.8"/><ellipse cx="447.50" cy="501.00" rx="1.6" ry="1.8"/><ellipse cx="447.50" cy="508.90" rx="1.6" ry="1.8"/><ellipse cx="447.50" cy="513.20" rx="1.6" ry="1.8"/><ellipse cx="458.60" cy="514.40" rx="1.6" ry="1.8"/><ellipse cx="478.30" cy="495.00" rx="1.6" ry="1.8"/><ellipse cx="478.30" cy="499.10" rx="1.6" ry="1.8"/><ellipse cx="419.20" cy="521.60" rx="1.6" ry="1.8"/><ellipse cx="419.20" cy="526.90" rx="1.6" ry="1.8"/><ellipse cx="419.20" cy="532.50" rx="1.6" ry="1.8"/><ellipse cx="447.50" cy="525.00" rx="1.6" ry="1.8"/><ellipse cx="439.40" cy="528.80" rx="1.6" ry="1.8"/><ellipse cx="439.40" cy="537.60" rx="1.6" ry="1.8"/><ellipse cx="439.30" cy="543.70" rx="1.6" ry="1.8"/><ellipse cx="467.00" cy="527.40" rx="1.6" ry="1.8"/><ellipse cx="467.00" cy="532.50" rx="1.6" ry="1.8"/><ellipse cx="478.30" cy="523.10" rx="1.6" ry="1.8"/><ellipse cx="478.30" cy="539.50" rx="1.6" ry="1.8"/><ellipse cx="458.60" cy="539.50" rx="1.6" ry="1.8"/><ellipse cx="458.60" cy="543.80" rx="1.6" ry="1.8"/><ellipse cx="408.70" cy="541.10" rx="1.6" ry="1.8"/><ellipse cx="408.70" cy="548.60" rx="1.6" ry="1.8"/><ellipse cx="408.70" cy="554.40" rx="1.6" ry="1.8"/><ellipse cx="408.70" cy="560.20" rx="1.6" ry="1.8"/><ellipse cx="419.30" cy="545.10" rx="1.6" ry="1.8"/><ellipse cx="427.90" cy="551.60" rx="1.6" ry="1.8"/><ellipse cx="388.70" cy="559.80" rx="1.6" ry="1.8"/><ellipse cx="388.70" cy="560.80" rx="1.6" ry="1.8"/><ellipse cx="400.40" cy="564.30" rx="1.6" ry="1.8"/><ellipse cx="400.40" cy="576.50" rx="1.6" ry="1.8"/><ellipse cx="439.30" cy="570.10" rx="1.6" ry="1.8"/><ellipse cx="427.80" cy="580.00" rx="1.6" ry="1.8"/><ellipse cx="467.00" cy="575.30" rx="1.6" ry="1.8"/><ellipse cx="556.00" cy="439.10" rx="1.6" ry="1.8"/><ellipse cx="517.10" cy="462.50" rx="1.6" ry="1.8"/><ellipse cx="536.30" cy="465.90" rx="1.6" ry="1.8"/><ellipse cx="517.10" cy="480.90" rx="1.6" ry="1.8"/><ellipse cx="517.10" cy="483.20" rx="1.6" ry="1.8"/><ellipse cx="497.40" cy="489.70" rx="1.6" ry="1.8"/><ellipse cx="536.30" cy="488.20" rx="1.6" ry="1.8"/><ellipse cx="556.00" cy="488.20" rx="1.6" ry="1.8"/><ellipse cx="556.00" cy="492.90" rx="1.6" ry="1.8"/><ellipse cx="536.30" cy="499.70" rx="1.6" ry="1.8"/><ellipse cx="536.30" cy="501.90" rx="1.6" ry="1.8"/><ellipse cx="576.10" cy="505.30" rx="1.6" ry="1.8"/><ellipse cx="517.10" cy="504.40" rx="1.6" ry="1.8"/><ellipse cx="497.40" cy="509.40" rx="1.6" ry="1.8"/><ellipse cx="497.40" cy="526.00" rx="1.6" ry="1.8"/><ellipse cx="497.40" cy="535.90" rx="1.6" ry="1.8"/></g>
<g clip-path="url(#clipC2)"><line x1="348.80" y1="575.02" x2="632.20" y2="456.31" stroke="#1b6abb" stroke-width="1.5"/></g>
<rect x="348.8" y="420.6" width="283.40" height="162.30" fill="none" stroke="#7b7b7b" stroke-width="1.5"/>
<g fill="#444444" stroke="#444444" stroke-width="0.3" font-size="10.0"><text transform="translate(348.80,597.10) scale(0.78,1)" text-anchor="middle">-50</text><text transform="translate(389.29,597.10) scale(0.78,1)" text-anchor="middle">0</text><text transform="translate(429.77,597.10) scale(0.78,1)" text-anchor="middle">50</text><text transform="translate(470.26,597.10) scale(0.78,1)" text-anchor="middle">100</text><text transform="translate(510.74,597.10) scale(0.78,1)" text-anchor="middle">150</text><text transform="translate(551.23,597.10) scale(0.78,1)" text-anchor="middle">200</text><text transform="translate(591.71,597.10) scale(0.78,1)" text-anchor="middle">250</text><text transform="translate(632.20,597.10) scale(0.78,1)" text-anchor="middle">300</text><text transform="translate(345.20,587.80) scale(0.78,1)" text-anchor="end">-50</text><text transform="translate(345.20,564.61) scale(0.78,1)" text-anchor="end">0</text><text transform="translate(345.20,541.43) scale(0.78,1)" text-anchor="end">50</text><text transform="translate(345.20,518.24) scale(0.78,1)" text-anchor="end">100</text><text transform="translate(345.20,495.06) scale(0.78,1)" text-anchor="end">150</text><text transform="translate(345.20,471.87) scale(0.78,1)" text-anchor="end">200</text><text transform="translate(345.20,448.69) scale(0.78,1)" text-anchor="end">250</text><text transform="translate(345.20,425.50) scale(0.78,1)" text-anchor="end">300</text></g>
<text transform="translate(425.75,612.15) scale(0.8950,1)" font-size="11.30" fill="#1e1e1e" stroke="#1e1e1e" stroke-width="0.3">Actual Storage Time (hours)</text>
<text transform="translate(325.75,586.01) rotate(-90) scale(1.1053,1)" font-size="10.87" fill="#1e1e1e" stroke="#1e1e1e" stroke-width="0.3">Predicted Storage Time (hours)</text>
<text transform="translate(356.02,442.05) scale(0.7433,1)" font-size="17.83" font-weight="bold" fill="#000" stroke="#000" stroke-width="0.5">C2</text>
</svg>
</body></html>
